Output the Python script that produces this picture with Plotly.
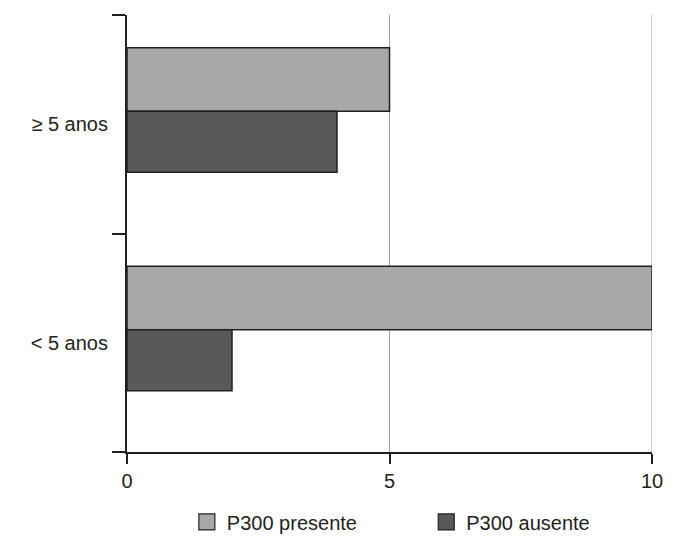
import plotly.graph_objects as go

categories = ["< 5 anos", "≥ 5 anos"]
presente = [10, 5]
ausente = [2, 4]
x_ticks = [0, 5, 10]
series_names = ["P300 presente", "P300 ausente"]
series_colors = ["#a7a8aa", "#58595b"]

font = "Liberation Sans, Arial, Helvetica, sans-serif"
edge = "#231f20"
grid_color = "#a0a0a0"

fig = go.Figure()
fig.add_trace(go.Bar(
    y=categories, x=presente, orientation="h", name=series_names[0],
    marker=dict(color=series_colors[0], line=dict(color=edge, width=1.5)),
    offset=0.06, width=0.29, showlegend=False,
))
fig.add_trace(go.Bar(
    y=categories, x=ausente, orientation="h", name=series_names[1],
    marker=dict(color=series_colors[1], line=dict(color=edge, width=1.5)),
    offset=-0.22, width=0.28, showlegend=False,
))
# legend entries (square swatches)
for i, (nm, col) in enumerate(zip(series_names, series_colors)):
    fig.add_trace(go.Scatter(
        x=[None], y=[None], mode="markers", name=nm,
        marker=dict(symbol="square", size=16, color=col, line=dict(color=edge, width=1.2)),
        legend="legend" if i == 0 else "legend2", showlegend=True,
    ))

# plotly drops the grid line sitting exactly on the range end; draw it for the last tick
fig.add_shape(type="line", xref="x", yref="paper", x0=x_ticks[-1], x1=x_ticks[-1], y0=0, y1=1,
              line=dict(color=grid_color, width=1), layer="below")

leg_common = dict(orientation="h", yanchor="middle", y=-0.16, xanchor="left",
                  font=dict(size=20, family=font, color=edge), itemwidth=30,
                  bgcolor="rgba(0,0,0,0)")

fig.update_layout(
    width=700, height=554,
    margin=dict(l=127, r=48, t=15, b=94),
    paper_bgcolor="white", plot_bgcolor="white",
    font=dict(family=font, size=20, color=edge),
    barmode="overlay",
    showlegend=True,
    legend=dict(x=0.114, **leg_common),
    legend2=dict(x=0.57, **leg_common),
    xaxis=dict(range=[0, 10], tickvals=x_ticks, ticktext=[str(v) for v in x_ticks],
               showgrid=True, gridcolor=grid_color, gridwidth=1,
               showline=True, linecolor=edge, linewidth=2,
               ticks="outside", ticklen=10, tickwidth=2, tickcolor=edge,
               zeroline=False, fixedrange=True, automargin=False),
    yaxis=dict(type="category", categoryorder="array", categoryarray=categories,
               range=[-0.5, 1.5], tickson="boundaries",
               showgrid=False, showline=True, linecolor=edge, linewidth=2,
               ticks="outside", ticklen=13, tickwidth=2, tickcolor=edge,
               ticklabelstandoff=13, fixedrange=True, automargin=False),
)

page_fix = (
    "var d=document.documentElement,b=document.body;"
    "d.style.margin='0';d.style.padding='0';d.style.height='554px';d.style.overflow='hidden';"
    "b.style.margin='0';b.style.padding='0';b.style.height='554px';b.style.overflow='hidden';"
)
fig.write_html("out.html", config={"displayModeBar": False}, post_script=page_fix)
